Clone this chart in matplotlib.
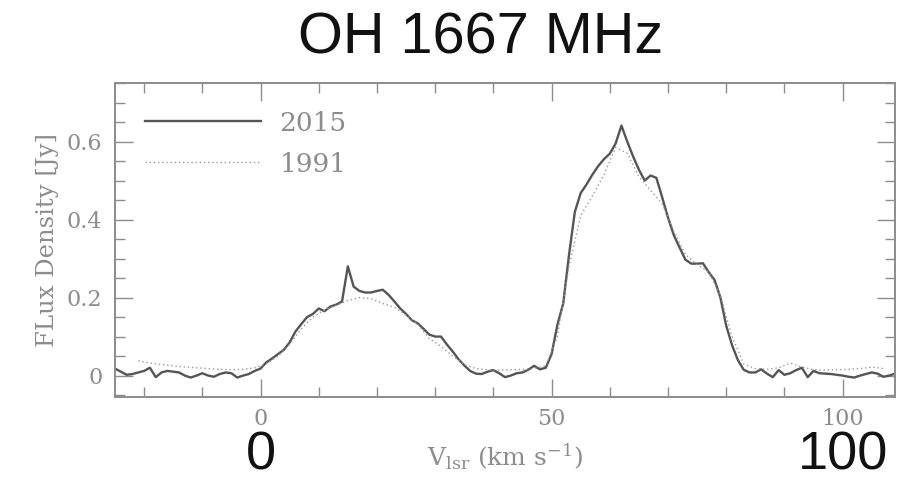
import numpy as np
import matplotlib
matplotlib.use("Agg")
import matplotlib.pyplot as plt
from matplotlib.ticker import MultipleLocator
import matplotlib.transforms as mtransforms

# OH 1667 MHz spectrum, 2015 observation (1 km/s channels)
vel_2015 = list(range(-25, 110))
flux_2015 = [
    0.018, 0.010, 0.002, 0.004, 0.008, 0.012, 0.020, -0.004, 0.008, 0.012,
    0.010, 0.008, 0.000, -0.005, 0.000, 0.006, 0.000, -0.003, 0.004, 0.008,
    0.006, -0.005, 0.000, 0.004, 0.012,
    0.018, 0.034, 0.044, 0.055, 0.066, 0.085, 0.113, 0.132, 0.150, 0.158,
    0.172, 0.165, 0.177, 0.182, 0.190, 0.280, 0.228, 0.217, 0.213, 0.213,
    0.217, 0.220, 0.207, 0.190, 0.172, 0.158, 0.142, 0.134, 0.120, 0.105,
    0.100, 0.100, 0.080, 0.062, 0.042, 0.026, 0.012, 0.005, 0.004, 0.010,
    0.014, 0.006, -0.004, 0.000, 0.006, 0.008, 0.015, 0.025, 0.016, 0.020,
    0.055, 0.130, 0.185, 0.310, 0.420, 0.468, 0.490, 0.515, 0.537, 0.555,
    0.569, 0.595, 0.641, 0.600, 0.562, 0.528, 0.500, 0.513, 0.507, 0.457,
    0.405, 0.360, 0.328, 0.297, 0.287, 0.287, 0.288, 0.265, 0.245, 0.200,
    0.128, 0.078, 0.040, 0.015, 0.008, 0.008, 0.016, 0.005, -0.004, 0.014,
    0.002, 0.006, 0.014, 0.020, -0.004, 0.012, 0.006, 0.005, 0.004, 0.002,
    0.000, -0.003, -0.005, 0.000, 0.004, 0.008, 0.005, -0.003, 0.000, 0.005,
]

# 1991 spectrum (2 km/s channels)
vel_1991 = list(range(-21, 108, 2))
flux_1991 = [
    0.038, 0.032, 0.028, 0.025, 0.022, 0.020, 0.018, 0.016, 0.015, 0.016,
    0.020, 0.030, 0.050, 0.080, 0.120, 0.150, 0.168, 0.180, 0.192, 0.200,
    0.197, 0.185, 0.175, 0.155, 0.132, 0.095, 0.075, 0.050, 0.028, 0.018,
    0.015, 0.014, 0.015, 0.016, 0.018, 0.025, 0.100, 0.280, 0.410, 0.460,
    0.515, 0.585, 0.570, 0.510, 0.475, 0.440, 0.370, 0.310, 0.285, 0.265,
    0.205, 0.100, 0.030, 0.018, 0.016, 0.020, 0.032, 0.022, 0.015, 0.014,
    0.015, 0.016, 0.018, 0.022, 0.018,
]

big_ticks = [0, 100]
big_tick_labels = ["0", "100"]

plt.rcParams["mathtext.fontset"] = "dejavuserif"
serif = "DejaVu Serif"
grey = "#8c8c8c"

fig = plt.figure(figsize=(8.97, 4.83), dpi=100)
ax = fig.add_axes([0.1282, 0.178, 0.8696, 0.650])

ax.plot(vel_2015, flux_2015, color="#555555", lw=1.7, label="2015")
ax.plot(vel_1991, flux_1991, color="#9a9a9a", lw=1.0, ls=(0, (1, 2)), label="1991")

ax.set_xlim(-25, 109)
ax.set_ylim(-0.055, 0.75)
ax.xaxis.set_major_locator(MultipleLocator(50))
ax.xaxis.set_minor_locator(MultipleLocator(10))
ax.yaxis.set_major_locator(MultipleLocator(0.2))
ax.yaxis.set_minor_locator(MultipleLocator(0.05))
ax.yaxis.set_major_formatter(plt.FuncFormatter(lambda v, p: "0" if abs(v) < 1e-9 else f"{v:.1f}"))

ax.tick_params(which="both", direction="in", top=True, right=True,
               color=grey, width=1.0, labelcolor=grey, labelsize=16)
ax.tick_params(which="major", length=13)
ax.tick_params(axis="x", which="major", pad=8)
ax.tick_params(axis="y", which="major", pad=9)
ax.tick_params(which="minor", length=7)
for lab in ax.get_xticklabels() + ax.get_yticklabels():
    lab.set_fontfamily(serif)
for sp in ax.spines.values():
    sp.set_color(grey)
    sp.set_linewidth(1.4)

ax.set_ylabel("FLux Density [Jy]", fontsize=17.5, color=grey, family=serif, labelpad=6)
ax.set_xlabel(r"V$_{\rm lsr}$ (km s$^{-1}$)", fontsize=18, color=grey, family=serif, labelpad=8)

leg = ax.legend(loc="upper left", bbox_to_anchor=(0.0385, 0.912), frameon=False,
                handlelength=4.4, handletextpad=0.7, labelspacing=0.6,
                borderpad=0, borderaxespad=0, prop={"family": serif, "size": 19})
for t in leg.get_texts():
    t.set_color(grey)

fig.text(0.536, 0.921, "OH 1667 MHz", ha="center", va="center",
         fontsize=41.5, family="Liberation Sans", color="#111111")

# large axis numbers below the plot
trans = mtransforms.blended_transform_factory(ax.transData, fig.transFigure)
for xv, txt in zip(big_ticks, big_tick_labels):
    ax.text(xv, 0.027, txt, transform=trans, ha="center", va="baseline",
            fontsize=39, family="Liberation Sans", color="#111111", clip_on=False)

fig.savefig("out.png", dpi=100)
